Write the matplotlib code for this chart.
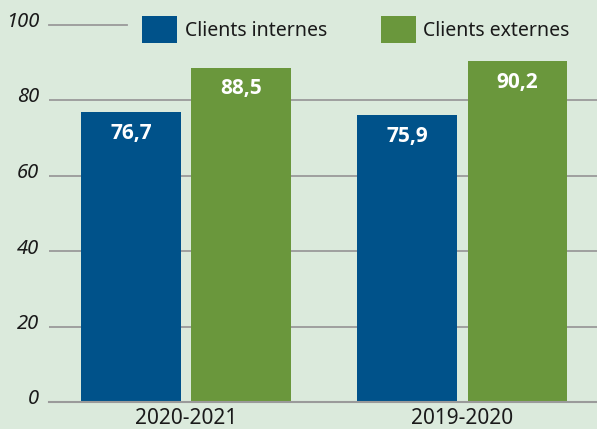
import numpy as np
import matplotlib
matplotlib.use("Agg")
import matplotlib.pyplot as plt
import matplotlib.transforms as mtransforms

plt.rcParams['font.family'] = ['Noto Sans', 'DejaVu Sans']

periods = ["2020-2021", "2019-2020"]
internes = [76.7, 75.9]
externes = [88.5, 90.2]
series_names = ["Clients internes", "Clients externes"]
yticks = [0, 20, 40, 60, 80, 100]

bg = "#dbeadc"
blue = "#00528a"
green = "#6a973c"
grid = "#9a9a9a"

fig = plt.figure(figsize=(5.97, 4.29), dpi=100, facecolor=bg)
ax = fig.add_axes([49 / 597, 1 - 402 / 429, 548 / 597, 377.5 / 429])
ax.set_facecolor(bg)

x = np.arange(len(periods))
w = 0.362
b1 = ax.bar(x - 0.199, internes, w, color=blue, label=series_names[0], zorder=3)
b2 = ax.bar(x + 0.201, externes, w, color=green, label=series_names[1], zorder=3)

for bars, vals in [(b1, internes), (b2, externes)]:
    for r, v in zip(bars, vals):
        ax.annotate(f"{v:.1f}".replace(".", ","),
                    (r.get_x() + r.get_width() / 2, v),
                    xytext=(0, -21), textcoords="offset pixels",
                    ha="center", va="center", color="white",
                    family=["Open Sans", "DejaVu Sans"],
                    fontsize=15, fontweight="bold", zorder=4)

# gridlines; the top one stops where the legend starts
for t in yticks[1:-1]:
    ax.axhline(t, color=grid, linewidth=1.3, zorder=1)
ax.axhline(100, xmax=(127 - 49) / 548, color=grid, linewidth=1.3, zorder=1, clip_on=False)

ax.set_xlim(-0.496, 1.489)
ax.set_ylim(0, 100)
ax.set_yticks(yticks)
for s in ["top", "right", "left"]:
    ax.spines[s].set_visible(False)
ax.spines["bottom"].set_color(grid)
ax.spines["bottom"].set_linewidth(1.5)
ax.spines["bottom"].set_zorder(5)

ax.set_xticks(x)
ax.set_xticklabels(periods, fontsize=15, color="#1a1a1a")
ax.tick_params(axis="x", length=0, pad=4)
ax.tick_params(axis="y", length=0, pad=7, labelsize=14.5, labelcolor="#1a1a1a")
offset = mtransforms.ScaledTranslation(0, 5 / 100, fig.dpi_scale_trans)
for lab in ax.get_yticklabels():
    lab.set_fontstyle("italic")
    lab.set_transform(lab.get_transform() + offset)

leg = ax.legend(loc="upper left", bbox_to_anchor=(142 / 597, 1 - 16 / 429), bbox_transform=fig.transFigure,
                ncol=2, frameon=False, fontsize=14,
                handlelength=1.8, handleheight=1.75, handletextpad=0.4,
                columnspacing=2.75, borderpad=0, borderaxespad=0)
for t in leg.get_texts():
    t.set_color("#1a1a1a")

fig.savefig("out.png", dpi=100, facecolor=bg)
